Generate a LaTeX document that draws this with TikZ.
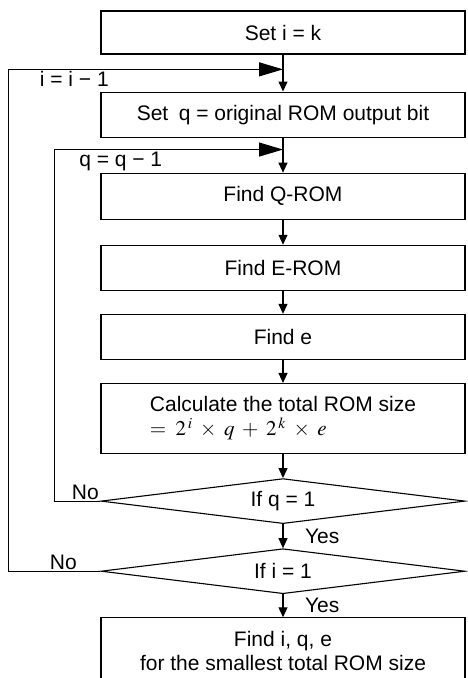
\documentclass[tikz,border=0pt]{standalone}
\usepackage{mathptmx}
\usepackage[no-math]{fontspec}
\setmainfont{Liberation Sans}
\usetikzlibrary{arrows.meta,positioning,shapes.geometric,calc}

\begin{document}
\begin{tikzpicture}[x=1pt, y=-1pt,
  font=\fontsize{21}{24}\selectfont,
  box/.style={draw, line width=1.1pt, minimum width=364pt, inner sep=2pt, align=center},
  dec/.style={draw, diamond, aspect=8, line width=1.1pt, minimum width=364pt,
              minimum height=45pt, inner sep=0pt},
  arr/.style={-{Triangle[length=10pt,width=9pt]}, line width=1.1pt},
  back/.style={-{Triangle[length=24pt,width=14pt]}, line width=1.1pt},
  lbl/.style={inner sep=1.5pt},
]
\useasboundingbox (0,0) rectangle (467,678);
\node[box, minimum height=43pt] (b1) at (283,32.5) {Set i = k};
\node[box, minimum height=45pt, below=37pt of b1] (b2) {Set\enspace q = original ROM output bit};
\node[box, minimum height=46pt, below=35pt of b2] (b3) {Find Q-ROM};
\node[box, minimum height=45pt, below=25pt of b3] (b4) {Find E-ROM};
\node[box, minimum height=45pt, below=23pt of b4] (b5) {Find e};
\node[box, minimum height=70pt, below=23pt of b5, align=left] (b6)
  {Calculate the total ROM size\\$=\;2^{\,i}\;\times\;q\;+\;2^{\,k}\;\times\;e$};
\node[dec, below=24pt of b6] (d1) {If q = 1};
\node[dec, below=24pt of d1] (d2) {If i = 1};
\node[box, minimum height=66pt, below=23pt of d2] (b7)
  {Find i, q, e\\for the smallest total ROM size};
% main flow
\draw[arr] (b1.south) -- (b2.north);
\draw[arr] (b2.south) -- (b3.north);
\draw[arr] (b3.south) -- (b4.north);
\draw[arr] (b4.south) -- (b5.north);
\draw[arr] (b5.south) -- (b6.north);
\draw[arr] (b6.south) -- (d1.north);
\draw[arr] (d1.south) -- node[lbl, right=20pt] (yes1) {Yes} (d2.north);
\draw[arr] (d2.south) -- node[lbl, right=20pt] (yes2) {Yes} (b7.north);
% loops back
\coordinate (j1) at ($(b1.south)!0.4!(b2.north)$);
\coordinate (j2) at ($(b2.south)!0.34!(b3.north)$);
\draw[back] (d2.west) -- ++(-92,0) |- node[lbl, pos=0.62, below] (dec1) {i = i − 1} (j1);
\draw[back] (d1.west) -- ++(-46,0) |- node[lbl, pos=0.645, below] (dec2) {q = q − 1} (j2);
\node[lbl, above left=0pt and 0pt of d1.west] (no1) {No};
\node[lbl, above left=0pt and 22pt of d2.west] (no2) {No};
\end{tikzpicture}
\end{document}
